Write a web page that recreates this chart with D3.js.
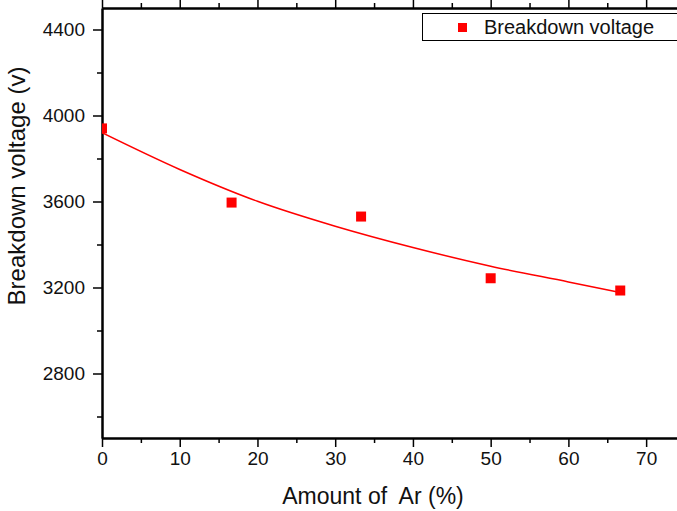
<!DOCTYPE html>
<html>
<head>
<meta charset="utf-8">
<script src="https://cdn.jsdelivr.net/npm/d3@7"></script>
<style>
  body { margin: 0; background: #fff; }
  svg { display: block; font-family: "Liberation Sans", Arial, sans-serif; }
</style>
</head>
<body>
<svg id="chart"></svg>
<script>
// measured points
const arAmount = [0, 16.67, 33.33, 50, 66.67];
const voltage = [3940, 3595, 3530, 3243, 3186];

// fitted curve
const fitX = [0, 10, 20, 30, 40, 50, 60, 66.67];
const fitY = [3920, 3749, 3601, 3485, 3386, 3299, 3226, 3177];

const xTicks = [0, 10, 20, 30, 40, 50, 60, 70];
const yTicks = [2800, 3200, 3600, 4000, 4400];
const legendLabel = 'Breakdown voltage';

const width = 677, height = 511;
const margin = { top: 8, right: -8, bottom: 73, left: 102 };
const w = width - margin.left - margin.right;
const h = height - margin.top - margin.bottom;

const svg = d3.select('#chart')
  .attr('width', width)
  .attr('height', height);

const g = svg.append('g')
  .attr('transform', `translate(${margin.left}, ${margin.top})`);

const x = d3.scaleLinear().domain([0, 75]).range([0, w]);
const y = d3.scaleLinear().domain([2500, 4500]).range([h, 0]);

g.append('clipPath').attr('id', 'clip')
  .append('rect').attr('x', 0).attr('y', 0).attr('width', w).attr('height', h);

const minorX = d3.range(5, 75, 10);
const minorY = d3.range(2600, 4500, 400);

function styleAxis(sel) {
  sel.attr('font-size', 19).attr('font-family', null);
  sel.select('.domain').attr('stroke', '#000').attr('stroke-width', 2);
  sel.selectAll('.tick line').attr('stroke', '#000').attr('stroke-width', 1.5);
  sel.selectAll('.tick text').attr('fill', '#111');
}

// bottom axis
g.append('g')
  .attr('transform', `translate(0, ${h})`)
  .call(d3.axisBottom(x).tickValues(xTicks).tickFormat(d3.format('d')).tickSize(9).tickPadding(5).tickSizeOuter(0))
  .call(styleAxis);
g.append('g')
  .attr('transform', `translate(0, ${h})`)
  .call(d3.axisBottom(x).tickValues(minorX).tickSize(5).tickFormat('').tickSizeOuter(0))
  .call(styleAxis);

// left axis
g.append('g')
  .call(d3.axisLeft(y).tickValues(yTicks).tickFormat(d3.format('d')).tickSize(9).tickPadding(8).tickSizeOuter(0))
  .call(styleAxis);
g.append('g')
  .call(d3.axisLeft(y).tickValues(minorY).tickSize(5).tickFormat('').tickSizeOuter(0))
  .call(styleAxis);

// top axis
g.append('g')
  .call(d3.axisTop(x).tickValues(xTicks).tickSize(9).tickFormat('').tickSizeOuter(0))
  .call(styleAxis);
g.append('g')
  .call(d3.axisTop(x).tickValues(minorX).tickSize(5).tickFormat('').tickSizeOuter(0))
  .call(styleAxis);

// fitted curve
const plot = g.append('g').attr('clip-path', 'url(#clip)');
plot.append('path')
  .datum(fitX.map((d, i) => [d, fitY[i]]))
  .attr('fill', 'none')
  .attr('stroke', '#ff0000')
  .attr('stroke-width', 1.5)
  .attr('d', d3.line().x(d => x(d[0])).y(d => y(d[1])).curve(d3.curveMonotoneX));

const ms = 10;
plot.selectAll('rect.pt')
  .data(arAmount)
  .join('rect')
  .attr('class', 'pt')
  .attr('x', d => x(d) - ms / 2)
  .attr('y', (d, i) => y(voltage[i]) - ms / 2)
  .attr('width', ms)
  .attr('height', ms)
  .attr('fill', '#ff0000');

// axis titles
svg.append('text')
  .attr('x', 373)
  .attr('y', 504)
  .attr('text-anchor', 'middle')
  .attr('font-size', 23)
  .attr('fill', '#111')
  .attr('xml:space', 'preserve')
  .style('white-space', 'pre')
  .text('Amount of  Ar (%)');

svg.append('text')
  .attr('transform', `translate(25, 186) rotate(-90)`)
  .attr('text-anchor', 'middle')
  .attr('font-size', 24)
  .attr('fill', '#111')
  .text('Breakdown voltage (v)');

// legend
const legend = svg.append('g');
legend.append('rect')
  .attr('x', 422.5)
  .attr('y', 13.5)
  .attr('width', 270)
  .attr('height', 27)
  .attr('fill', '#fff')
  .attr('stroke', '#000')
  .attr('stroke-width', 1);
legend.append('rect')
  .attr('x', 458)
  .attr('y', 23)
  .attr('width', 9)
  .attr('height', 9)
  .attr('fill', '#ff0000');
legend.append('text')
  .attr('x', 484)
  .attr('y', 34)
  .attr('font-size', 20)
  .attr('fill', '#111')
  .text(legendLabel);
</script>
</body>
</html>
